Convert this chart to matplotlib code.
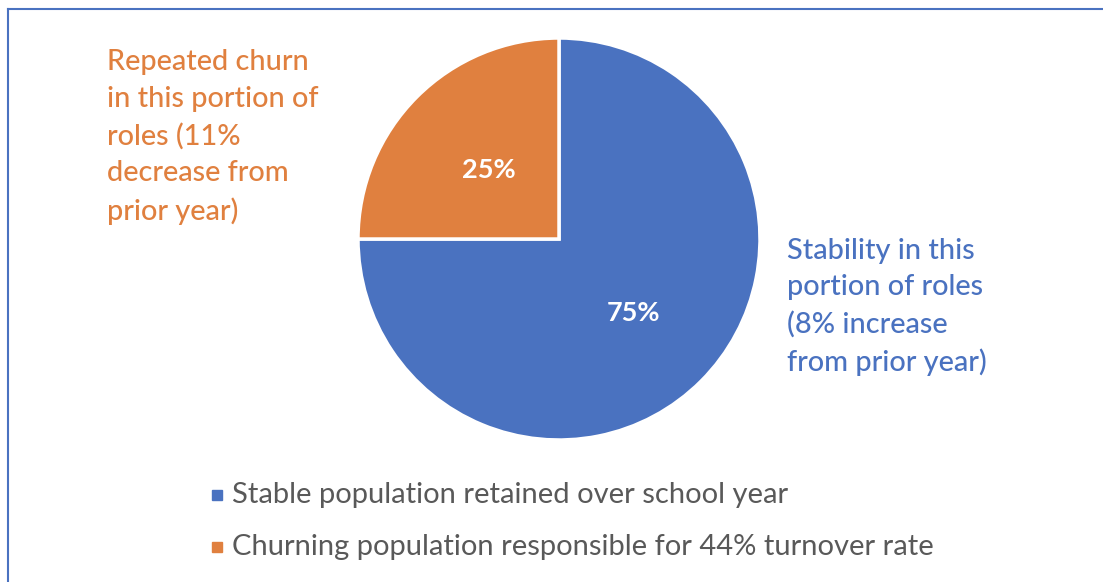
import matplotlib
matplotlib.use("Agg")
import matplotlib.pyplot as plt
from matplotlib.patches import Rectangle
from matplotlib.lines import Line2D

labels = ["Stable population retained over school year",
          "Churning population responsible for 44% turnover rate"]
values = [75, 25]
pct_labels = ["75%", "25%"]
colors = ["#4A72C0", "#E0803F"]
annot_orange = "Repeated churn\nin this portion of\nroles (11%\ndecrease from\nprior year)"
annot_blue = "Stability in this\nportion of roles\n(8% increase\nfrom prior year)"

W, H = 1103, 582
fig = plt.figure(figsize=(W / 100, H / 100), dpi=100)
plt.rcParams['font.family'] = ['Lato', 'DejaVu Sans']
ax = fig.add_axes([0, 0, 1, 1])
ax.set_xlim(0, W)
ax.set_ylim(0, H)
ax.set_aspect('equal')
ax.axis('off')

def Y(y):
    return H - y

# border
ax.add_line(Line2D([8, W], [Y(9), Y(9)], color="#4A72C0", lw=1.5))
ax.add_line(Line2D([8, 8], [Y(9), 0], color="#4A72C0", lw=1.5))

cx, cy, r = 559, 239, 201
wedges, _ = ax.pie(values, colors=colors, startangle=90, counterclock=False,
                   center=(cx, Y(cy)), radius=r,
                   wedgeprops=dict(edgecolor="white", linewidth=2.5))
ax.set_xlim(0, W)
ax.set_ylim(0, H)

ax.text(633, Y(313), pct_labels[0], color="white", fontsize=19.5, fontweight="bold",
        ha="center", va="center")
ax.text(489, Y(170), pct_labels[1], color="white", fontsize=19.5, fontweight="bold",
        ha="center", va="center")

ax.text(107, Y(137), annot_orange, color="#E0803F", fontsize=20.8, fontweight="medium",
        ha="left", va="center", linespacing=1.5)
ax.text(787, Y(307), annot_blue, color="#4A72C0", fontsize=20.8, fontweight="medium",
        ha="left", va="center", linespacing=1.48)

# legend
for i, (lab, c, yy) in enumerate(zip(labels, colors, [495, 547])):
    ax.add_patch(Rectangle((212, Y(yy) - 5), 10, 10, color=c))
    ax.text(232, Y(yy), lab, color="#595959", fontsize=21, ha="left", va="center")

fig.savefig("out.png", dpi=100)
